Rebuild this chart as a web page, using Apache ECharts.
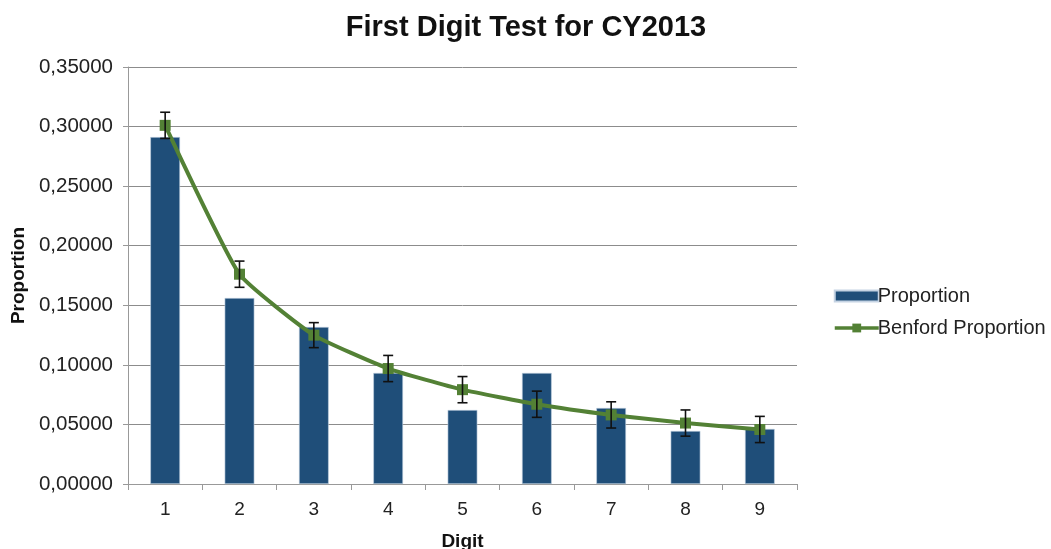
<!DOCTYPE html>
<html>
<head>
<meta charset="utf-8">
<script src="https://cdn.jsdelivr.net/npm/echarts@6/dist/echarts.min.js"></script>
<style>
  html, body { margin: 0; padding: 0; background: #fff; }
  #main { width: 1051px; height: 549px; }
</style>
</head>
<body>
<div id="main"></div>
<script>
// digits on x axis
var digits = ['1', '2', '3', '4', '5', '6', '7', '8', '9'];
// observed proportion (bars)
var proportion = [0.2912, 0.1561, 0.1318, 0.0932, 0.0621, 0.0932, 0.0638, 0.0445, 0.0462];
// Benford expected proportion (line)
var benford = [0.30103, 0.17609, 0.12494, 0.09691, 0.07918, 0.06695, 0.05799, 0.05115, 0.04576];
// error bar half-width around Benford points
var errors = [0.011, 0.011, 0.0105, 0.011, 0.011, 0.011, 0.011, 0.011, 0.011];

var errData = [];
for (var i = 0; i < digits.length; i++) {
  errData.push([i, benford[i] - errors[i], benford[i] + errors[i]]);
}

var chart = echarts.init(document.getElementById('main'));
var fontFam = '"Liberation Sans", Arial, sans-serif';
var green = '#538135';

var option = {
  animation: false,
  textStyle: { fontFamily: fontFam },
  title: {
    text: 'First Digit Test for CY2013',
    left: 521,
    textAlign: 'center',
    top: 8,
    textStyle: { fontSize: 29, fontWeight: 'bold', color: '#111', fontFamily: fontFam }
  },
  legend: {
    orient: 'vertical',
    left: 828,
    top: 281,
    itemGap: 12,
    itemWidth: 44,
    itemHeight: 11,
    textStyle: { fontSize: 20, color: '#222', fontFamily: fontFam, padding: [0, 0, 0, -6] },
    data: [
      { name: 'Proportion', icon: 'rect' },
      { name: 'Benford Proportion', lineStyle: { width: 3.5 } }
    ]
  },
  grid: { left: 128, right: 254, top: 67, bottom: 65, outerBoundsMode: 'none', containLabel: false },
  xAxis: {
    type: 'category',
    data: digits,
    name: 'Digit',
    nameLocation: 'middle',
    nameGap: 48,
    nameTextStyle: { fontSize: 19, fontWeight: 'bold', color: '#111' },
    axisLine: { lineStyle: { color: '#999' } },
    axisTick: { show: true, length: 6, lineStyle: { color: '#999' } },
    axisLabel: { fontSize: 19, color: '#222', margin: 16 }
  },
  yAxis: {
    type: 'value',
    min: 0,
    max: 0.35,
    interval: 0.05,
    name: 'Proportion',
    nameLocation: 'middle',
    nameGap: 99,
    nameTextStyle: { fontSize: 19, fontWeight: 'bold', color: '#111' },
    axisLine: { show: true, lineStyle: { color: '#999' } },
    axisTick: { show: true, length: 5, lineStyle: { color: '#999' } },
    axisLabel: {
      fontSize: 20.5, color: '#222', margin: 15,
      formatter: function (v) { return v.toFixed(5).replace('.', ','); }
    },
    splitLine: { lineStyle: { color: '#8c8c8c', width: 1 } }
  },
  series: [
    {
      name: 'Proportion',
      type: 'bar',
      data: proportion,
      barWidth: '40%',
      itemStyle: { color: '#1f4e79', borderColor: '#c5d3e3', borderWidth: 0.6 }
    },
    {
      name: 'Benford Proportion',
      type: 'line',
      data: benford,
      smooth: 0.15,
      symbol: 'rect',
      symbolSize: 11,
      lineStyle: { color: green, width: 4 },
      itemStyle: { color: green },
      z: 3
    },
    {
      name: 'err',
      type: 'custom',
      data: errData,
      z: 4,
      silent: true,
      renderItem: function (params, api) {
        var x = api.value(0);
        var lo = api.coord([x, api.value(1)]);
        var hi = api.coord([x, api.value(2)]);
        var hw = 5;
        var st = { stroke: '#111', lineWidth: 1.6 };
        return {
          type: 'group',
          children: [
            { type: 'line', shape: { x1: hi[0], y1: hi[1], x2: lo[0], y2: lo[1] }, style: st },
            { type: 'line', shape: { x1: hi[0] - hw, y1: hi[1], x2: hi[0] + hw, y2: hi[1] }, style: st },
            { type: 'line', shape: { x1: lo[0] - hw, y1: lo[1], x2: lo[0] + hw, y2: lo[1] }, style: st }
          ]
        };
      }
    }
  ]
};

chart.setOption(option);
</script>
</body>
</html>
